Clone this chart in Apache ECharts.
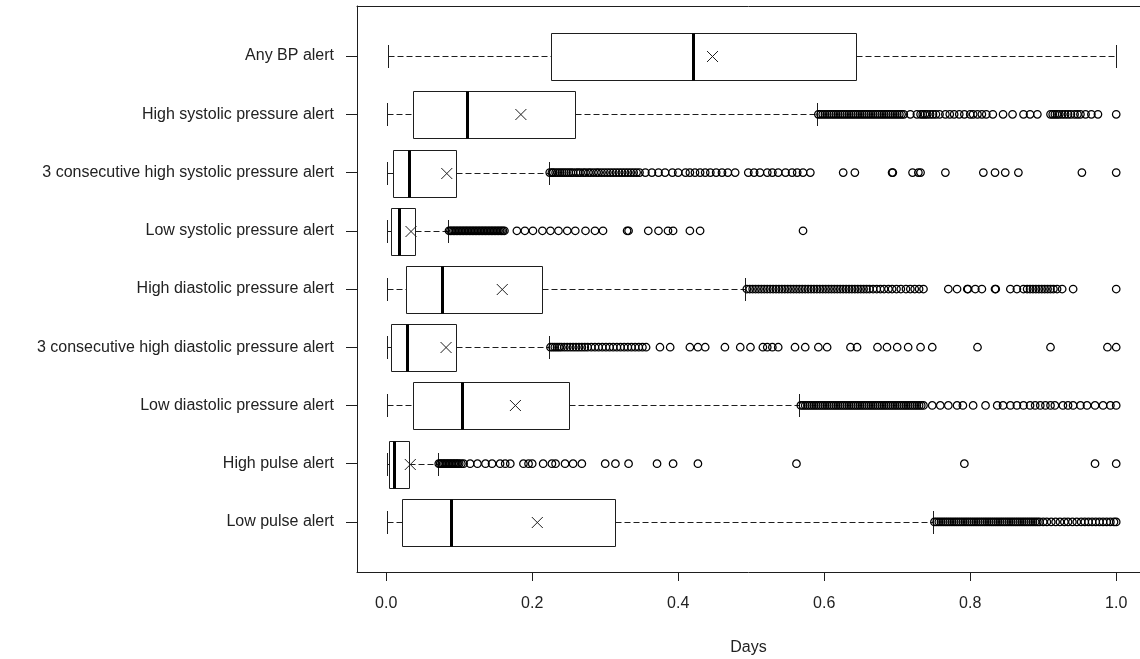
<!DOCTYPE html>
<html>
<head>
<meta charset="utf-8">
<script src="https://cdn.jsdelivr.net/npm/echarts@6/dist/echarts.min.js"></script>
<style>
  html, body { margin: 0; padding: 0; background: #fff; }
  #chart { width: 1140px; height: 659px; }
</style>
</head>
<body>
<div id="chart"></div>
<script>
// Categories, top to bottom as drawn
const categories = [
  'Any BP alert',
  'High systolic pressure alert',
  '3 consecutive high systolic pressure alert',
  'Low systolic pressure alert',
  'High diastolic pressure alert',
  '3 consecutive high diastolic pressure alert',
  'Low diastolic pressure alert',
  'High pulse alert',
  'Low pulse alert'
];

// Box statistics (Days), same order as categories
const whiskerLow  = [0.002, 0.001, 0.001, 0.001, 0.001, 0.001, 0.001, 0.001, 0.001];
const q1          = [0.226, 0.0365, 0.0087, 0.007, 0.0274, 0.007, 0.0365, 0.004, 0.0215];
const medians     = [0.420, 0.1105, 0.0306, 0.018, 0.077, 0.029, 0.1037, 0.010, 0.089];
const q3          = [0.643, 0.259, 0.095, 0.040, 0.213, 0.095, 0.250, 0.0306, 0.314];
const whiskerHigh = [1.000, 0.590, 0.223, 0.085, 0.492, 0.223, 0.566, 0.0708, 0.749];
const means       = [0.447, 0.1845, 0.083, 0.034, 0.159, 0.082, 0.177, 0.033, 0.207];

// Outliers per category
const outAnyBP = [];
const outHighSys = [0.592,0.595,0.598,0.601,0.604,0.607,0.61,0.613,0.616,0.619,0.622,0.625,0.628,0.631,0.634,0.637,0.64,0.643,0.646,0.649,0.652,0.655,0.658,0.661,0.664,0.667,0.67,0.673,0.676,0.679,0.682,0.685,0.688,0.691,0.694,0.697,0.7,0.703,0.706,0.709,
  0.718,0.727,0.732,0.735,0.738,0.741,0.745,0.749,0.753,0.758,0.766,0.772,0.778,0.785,0.792,0.8,0.804,0.81,0.816,0.822,0.831,0.845,0.858,0.873,0.882,0.892,
  0.91,0.913,0.916,0.919,0.922,0.926,0.93,0.934,0.938,0.943,0.947,0.951,0.958,0.966,0.975,1.0];
const out3HighSys = [0.224,0.227,0.229,0.232,0.235,0.238,0.241,0.244,0.247,0.25,0.253,0.256,0.26,0.263,0.266,0.27,0.273,0.277,0.28,0.284,0.288,0.291,0.295,0.299,0.303,0.307,0.311,0.315,0.319,0.323,0.327,0.331,0.335,0.339,0.343,0.347,
  0.355,0.364,0.373,0.382,0.392,0.4,0.41,0.416,0.423,0.43,0.437,0.444,0.452,0.46,0.468,0.478,0.496,0.504,0.512,0.522,0.529,0.537,0.547,0.556,0.563,0.571,0.581,
  0.626,0.642,0.693,0.694,0.721,0.729,0.732,0.766,0.818,0.834,0.848,0.866,0.953,1.0];
const outLowSys = [0.086,0.088,0.09,0.092,0.094,0.096,0.098,0.1,0.102,0.104,0.106,0.108,0.11,0.112,0.114,0.116,0.118,0.12,0.122,0.124,0.126,0.128,0.13,0.132,0.134,0.136,0.138,0.14,0.142,0.144,0.146,0.148,0.15,0.152,0.154,0.156,0.158,0.16,0.162,
  0.179,0.19,0.201,0.214,0.225,0.236,0.248,0.259,0.273,0.286,0.297,0.33,0.332,0.359,0.373,0.386,0.393,0.416,0.43,0.571];
const outHighDia = [0.494,0.498,0.502,0.506,0.51,0.514,0.518,0.522,0.526,0.53,0.534,0.538,0.542,0.546,0.55,0.554,0.558,0.562,0.566,0.57,0.574,0.578,0.582,0.586,0.59,0.594,0.598,0.602,0.606,0.61,0.614,0.618,0.622,0.626,0.63,0.634,0.638,0.642,0.646,0.65,0.654,0.658,0.662,
  0.667,0.672,0.677,0.682,0.688,0.693,0.699,0.705,0.712,0.718,0.724,0.73,0.736,0.77,0.782,0.796,0.797,0.807,0.816,0.834,0.835,0.855,0.864,0.873,
  0.878,0.882,0.886,0.89,0.894,0.898,0.902,0.906,0.91,0.914,0.919,0.926,0.941,1.0];
const out3HighDia = [0.225,0.228,0.231,0.234,0.237,0.24,0.244,0.248,0.252,0.256,0.26,0.264,0.268,0.272,0.276,0.281,0.286,0.291,0.296,0.301,0.306,0.311,0.316,0.321,0.326,0.331,0.336,0.341,0.346,0.351,0.356,
  0.375,0.389,0.416,0.427,0.437,0.464,0.485,0.499,0.516,0.522,0.529,0.537,0.56,0.574,0.592,0.604,0.636,0.645,0.673,0.686,0.7,0.715,0.732,0.748,0.81,0.91,0.988,1.0];
const outLowDia = [0.568,0.571,0.574,0.577,0.58,0.583,0.586,0.589,0.592,0.595,0.598,0.601,0.604,0.607,0.61,0.613,0.616,0.619,0.622,0.625,0.628,0.631,0.634,0.637,0.64,0.643,0.646,0.649,0.652,0.655,0.658,0.661,0.664,0.667,0.67,0.673,0.676,0.679,0.682,0.685,0.688,0.691,0.694,0.697,0.7,0.703,0.706,0.709,0.712,0.715,0.718,0.721,0.724,0.727,0.73,0.733,0.736,
  0.748,0.759,0.77,0.782,0.79,0.804,0.821,0.837,0.845,0.855,0.864,0.873,0.882,0.889,0.896,0.903,0.91,0.916,0.927,0.934,0.941,0.951,0.96,0.971,0.982,0.992,1.0];
const outHighPulse = [0.072,0.074,0.076,0.078,0.08,0.082,0.084,0.086,0.088,0.09,0.092,0.094,0.096,0.098,0.1,0.103,0.106,
  0.115,0.125,0.136,0.145,0.156,0.163,0.17,0.188,0.195,0.2,0.215,0.227,0.232,0.245,0.256,0.268,0.3,0.314,0.332,0.371,0.393,0.427,0.562,0.792,0.971,1.0];
const outLowPulse = [0.751,0.754,0.757,0.76,0.763,0.766,0.769,0.772,0.775,0.778,0.781,0.784,0.787,0.79,0.793,0.796,0.799,0.802,0.805,0.808,0.811,0.814,0.817,0.82,0.823,0.826,0.829,0.832,0.835,0.838,0.841,0.844,0.847,0.85,0.853,0.856,0.859,0.862,0.865,0.868,0.871,0.874,0.877,0.88,0.883,0.886,0.889,0.892,0.895,
  0.9,0.905,0.911,0.917,0.923,0.929,0.934,0.94,0.946,0.952,0.957,0.962,0.967,0.972,0.977,0.982,0.987,0.992,0.997,1.0];
const outliers = [outAnyBP, outHighSys, out3HighSys, outLowSys, outHighDia, out3HighDia, outLowDia, outHighPulse, outLowPulse];

// X axis tick values
const xTicks = [0, 0.2, 0.4, 0.6, 0.8, 1.0];

const n = categories.length;
const posOf = (i) => n - i; // top category at highest position
const yTicks = categories.map((c, i) => posOf(i));

const boxData = categories.map((c, i) => [posOf(i), whiskerLow[i], q1[i], medians[i], q3[i], whiskerHigh[i], means[i]]);
const outlierData = [];
outliers.forEach((arr, i) => arr.forEach(v => outlierData.push([v, posOf(i)])));

const INK = '#1e1e1e';
const px = (v) => Math.round(v) + 0.5;

function renderBox(params, api) {
  const y = api.value(0);
  const wl = api.value(1), a = api.value(2), m = api.value(3), b = api.value(4), wh = api.value(5), mu = api.value(6);
  const cy = px(api.coord([0, y])[1]);
  const X = (v) => api.coord([v, y])[0];
  const h = api.size([0, 0.8])[1];
  const half = h / 2, st = h / 4;
  const xl = px(X(wl)), xa = px(X(a)), xm = X(m), xb = px(X(b)), xh = px(X(wh)), xmu = X(mu);
  const line = (x1, y1, x2, y2, extra) => ({
    type: 'line',
    shape: { x1, y1, x2, y2 },
    style: Object.assign({ stroke: INK, lineWidth: 1, fill: null }, extra || {})
  });
  return {
    type: 'group',
    children: [
      line(xl, cy, xa, cy, { lineDash: [6, 3] }),
      line(xb, cy, xh, cy, { lineDash: [6, 3] }),
      line(xl, Math.round(cy - st), xl, Math.round(cy + st)),
      line(xh, Math.round(cy - st), xh, Math.round(cy + st)),
      { type: 'rect', shape: { x: xa, y: Math.round(cy - half) + 0.5, width: xb - xa, height: Math.round(h) },
        style: { fill: 'rgba(255,255,255,0)', stroke: INK, lineWidth: 1 } },
      line(Math.round(xm) + 0.5, Math.round(cy - half) + 0.5, Math.round(xm) + 0.5, Math.round(cy + half) + 0.5, { lineWidth: 3, stroke: '#000' }),
      line(xmu - 5.5, cy - 5.5, xmu + 5.5, cy + 5.5),
      line(xmu - 5.5, cy + 5.5, xmu + 5.5, cy - 5.5)
    ]
  };
}

const chart = echarts.init(document.getElementById('chart'), null, { renderer: 'canvas' });
const font = 'Liberation Sans, Arial, sans-serif';
const X_MIN = -0.04, X_MAX = 1.0326;
chart.setOption({
  animation: false,
  backgroundColor: '#fff',
  grid: { left: 357, top: 6, width: 783, height: 566, show: false, containLabel: false, outerBoundsMode: 'none' },
  xAxis: [
    {
      type: 'value', min: X_MIN, max: X_MAX, position: 'bottom',
      name: 'Days', nameLocation: 'middle', nameGap: 68,
      nameTextStyle: { fontFamily: font, fontSize: 16, color: '#222' },
      axisLine: { show: true, onZero: false, lineStyle: { color: INK, width: 1 } },
      axisTick: { show: true, length: 9, customValues: xTicks, lineStyle: { color: INK } },
      axisLabel: { customValues: xTicks, margin: 24, fontFamily: font, fontSize: 16, color: '#222', formatter: (v) => v.toFixed(1) },
      splitLine: { show: false }
    },
    {
      type: 'value', min: X_MIN, max: X_MAX, position: 'top',
      axisLine: { show: true, onZero: false, lineStyle: { color: INK, width: 1 } },
      axisTick: { show: false }, axisLabel: { show: false }, splitLine: { show: false }
    }
  ],
  yAxis: {
    type: 'value', min: 0.14, max: 9.86, position: 'left',
    axisLine: { show: true, onZero: false, lineStyle: { color: INK, width: 1 } },
    axisTick: { show: true, length: 11, customValues: yTicks, lineStyle: { color: INK } },
    axisLabel: { customValues: yTicks, margin: 23, padding: [4, 0, 0, 0], fontFamily: font, fontSize: 16, color: '#222', formatter: (v) => categories[n - Math.round(v)] },
    splitLine: { show: false }
  },
  series: [
    {
      type: 'custom', name: 'boxes', renderItem: renderBox, data: boxData,
      encode: { x: [1, 2, 3, 4, 5, 6], y: 0 }, clip: false, silent: true
    },
    {
      type: 'scatter', name: 'outliers', data: outlierData, symbol: 'circle', symbolSize: 7.5,
      itemStyle: { color: 'rgba(255,255,255,0)', borderColor: '#000', borderWidth: 1.25, opacity: 1 },
      silent: true
    }
  ]
});
</script>
</body>
</html>
